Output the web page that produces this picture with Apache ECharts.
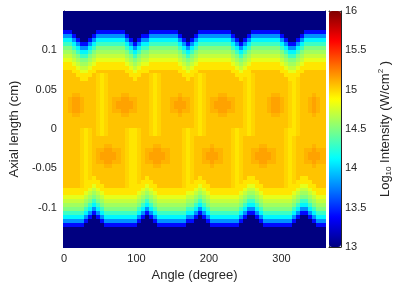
<!DOCTYPE html>
<html><head><meta charset="utf-8">
<script src="https://cdn.jsdelivr.net/npm/echarts@6/dist/echarts.min.js"></script>
<style>html,body{margin:0;padding:0;background:#fff}#c{width:401px;height:291px}</style>
</head><body><div id="c"></div>
<script>
// Colour classes -> log10 intensity
const LEVEL_OF = {'0': 13.0, '4': 13.4, '8': 13.8, 'B': 14.1, 'D': 14.3, 'F': 14.5, 'G': 14.6,
                  'H': 14.7, 'I': 14.8, 'J': 14.95, 'j': 15.0, 'K': 15.05, 'l': 15.1, 'L': 15.15};
const angleTicks = [0, 100, 200, 300];
const axialTicks = [-0.1, -0.05, 0, 0.05, 0.1];
const cbTicks = [13, 13.5, 14, 14.5, 15, 15.5, 16];
const nCols = 64; // angle bins across 0..360 deg
const nRows = 60; // axial bins 0.15 .. -0.15 cm (top to bottom)
// Intensity map: one string per axial row (top first), one char per angle bin
const rows = [
"00000000 00000000 00000000 00000000 00000000 00000000 00000000 00000000",
"00000000 00000000 00000000 00000000 00000000 00000000 00000000 00000000",
"00000000 00000000 00000000 00000000 00000000 00000000 00000000 00000000",
"00000000 00000000 00000000 00000000 00000000 00000000 00000000 00000000",
"00000000 00000000 00000000 00000000 00000000 00000000 00000000 00000000",
"44000000 44444440 00000444 44440000 04444444 40000044 44444000 00044444",
"88400004 88888884 00044888 88884000 48888888 84000488 88888400 00488888",
"BB840048 BBBBBBB8 40488BBB BBBB8404 8BBBBBBB B84048BB BBBBB840 048BBBBB",
"DDB8448B DDDDDDDB 848BBDDD DDDDB848 BDDDDDDD DB848BDD DDDDDB84 48BDDDDD",
"FFDB88BD FFFFFFFD B8BDDFFF FFFFDB8B DFFFFFFF FDB8BDFF FFFFFDB8 8BDFFFFF",
"GGFDBBDF GGGGGGGF DBDFFGGG GGGGFDBD FGGGGGGG GFDBDFGG GGGGGFDB BDFGGGGG",
"HHGFDDFG HHHHHHHG FDFGGHHH HHHHGFDF GHHHHHHH HGFDFGHH HHHHHGFD DFGHHHHH",
"IIHGFFGH IIIIIIIH GFGHHIII IIIIHGFG HIIIIIII IHGFGHII IIIIIHGF FGHIIIII",
"JJIHGGHI JJJJJJJI HGHIIJJJ JJJJIHGH IJJJJJJJ JIHGHIJJ JJJJJIHG GHIJJJJJ",
"JJJIHHIJ JJJJJJJJ IHIJJJJJ JJJJJIHI JJJJJJJJ JJIHIJJJ JJJJJJIH HIJJJJJJ",
"KKJJIIJJ KKKKKKKJ JIJJJKKK KKKKJJIJ JKKKKKKK KJJIJJKK KKKKKJJI IJJKKKKK",
"KKKJJJJK jJjKKKKK JJJKKjJj KKKKKJJJ jJjKKKKK KKJJJJjK KKKKKKJJ JJKKKKKK",
"KKKKJJKK jJjKKKKK KJKKKjJj KKKKKKJK jJjKKKKK KKKJjJjK KKKKKKKJ JjKKKKKK",
"KKKKKKKK jJjKKKKK KKKKKjJj KKKKKKKK jJjKKKKK KKKKjJjK KKKKKKKj JjKKKKKK",
"KKKKKKKK jJjKKKKK KKKKKjJj KKKKKKKK jJjKKKKK KKKKjJjK KKKKKKKj JjKKKKKK",
"KKKKKKKK jJjKKKKK KKKKKjJj KKKKKKKK jJjKKKKK KKKKjJjK KKKKKKKj JjKKKKKK",
"KKllKKKK jJjKKKll KKKKKjJj KKKKlKKK jJjKKKll KKKKjJjK KKKllKKj JjKKKlKK",
"KlLLlKKK jJjKllLL llKKKjJj KKllLllK jJjKllLL llKKjJjK KKlLLlKj JjKKlLlK",
"KlLLlKKK jJjKlLLL LlKKKjJj KKlLLLlK jJjKlLLL LlKKjJjK KKlLLlKj JjKKlLlK",
"KlLLlKKK jJjKlLLL LlKKKjJj KKlLLLlK jJjKlLLL LlKKjJjK KKlLLlKj JjKKlLlK",
"KlLLlKKK jJjKllLL llKKKjJj KKllLllK jJjKllLL llKKjJjK KKlLLlKj JjKKlLlK",
"KKllKKKK jJjKKKll KKKKKjJj KKKKlKKK jJjKKKll KKKKjJjK KKKllKKj JjKKKlKK",
"KKKKKKKK jJjKKKKK KKKKKjJj KKKKKKKK jJjKKKKK KKKKjJjK KKKKKKKj JjKKKKKK",
"KKKKKKKK jJjKKKKK KKKKKjJj KKKKKKKK jJjKKKKK KKKKjJjK KKKKKKKj JjKKKKKK",
"KKKKKKKK jJjKKKKK KKKKKjJj KKKKKKKK jJjKKKKK KKKKjJjK KKKKKKKj JjKKKKKK",
"KKKKjJjK jJjKKKKj JJjKKjJj KKKKKjJj jJjKKKKK KjJjjJjK KKKKKKjJ JjKKKKKK",
"KKKKjJjK jJjKKKKj JJjKKjJj KKKKKjJj jJjKKKKK KjJjjJjK KKKKKKjJ JjKKKKKK",
"KKKKjJjK KKKKKKKj JJjKKKKK KKKKKjJj KKKKKKKK KjJjKKKK KKKKKKjJ jKKKKKKK",
"KKKKjJjK KKKKKKKj JJjKKKKK KKKKKjJj KKKKKKKK KjJjKKKK KKKKKKjJ jKKKKKKK",
"KKKKjJjK KKllKKKj JJjKKKll KKKKKjJj KKKKlKKK KjJjKKKK llKKKKjJ jKKKKlKK",
"KKKKjJjK llLLllKj JJjKllLL llKKKjJj KKllLllK KjJjKKll LLllKKjJ jKKllLll",
"KKKKjJjK lLLLLlKj JJjKlLLL LlKKKjJj KKlLLLlK KjJjKKlL LLLlKKjJ jKKlLLLl",
"KKKKjJjK lLLLLlKj JJjKlLLL LlKKKjJj KKlLLLlK KjJjKKlL LLLlKKjJ jKKlLLLl",
"KKKKjJjK llLLllKj JJjKllLL llKKKjJj KKllLllK KjJjKKll LLllKKjJ jKKllLll",
"KKKKjJjK KKllKKKj JJjKKKll KKKKKjJj KKKKlKKK KjJjKKKK llKKKKjJ jKKKKlKK",
"KKKKjJjK KKKKKKKj JJjKKKKK KKKKKjJj KKKKKKKK KjJjKKKK KKKKKKjJ jKKKKKKK",
"KKKKjJjK KKKKKKKj JJjKKKKK KKKKKjJj KKKKKKKK KjJjKKKK KKKKKKjJ jKKKKKKK",
"KKKKjJjJ KKKKKKKj JJjKJKKK KKKKKjJj KJKKKKKK KjJjKJJK KKKKKKjJ jKJJKKKK",
"KKKKjJJJ JKKKKKKj JJjJJJKK KKKKKjJj JJJKKKKK KjJjJJJJ KKKKKKjJ jJJJJKKK",
"KKKKjJJI JJKKKKKj JJJJIJJK KKKKKjJJ JIJJKKKK KjJJJIIJ JKKKKKjJ JJIIJJKK",
"JJJJJJIH IJJJJJJJ JJJIHIJJ JJJJJJJJ IHIJJJJJ JJJJIHHI JJJJJJJJ JIHHIJJJ",
"JJJJJIHG HIJJJJJJ JJIHGHIJ JJJJJJII HGHIJJJJ JJJIHGGH IJJJJJJJ IHGGHIJJ",
"IIIIIHGF GHIIIIII IIHGFGHI IIIIIIHH GFGHIIII IIIHGFFG HIIIIIII HGFFGHII",
"HHHHHGFD FGHHHHHH HHGFDFGH HHHHHHGG FDFGHHHH HHHGFDDF GHHHHHHH GFDDFGHH",
"GGGGGFDB DFGGGGGG GGFDBDFG GGGGGGFF DBDFGGGG GGGFDBBD FGGGGGGG FDBBDFGG",
"FFFFFDB8 BDFFFFFF FFDB8BDF FFFFFFDD B8BDFFFF FFFDB88B DFFFFFFF DB88BDFF",
"DDDDDB84 8BDDDDDD DDB848BD DDDDDDBB 848BDDDD DDDB8448 BDDDDDDD B8448BDD",
"BBBBB840 48BBBBBB BB84048B BBBBBB88 4048BBBB BBB84004 8BBBBBBB 840048BB",
"88888400 04888888 88400048 88888844 00048888 88840000 48888888 40000488",
"44444000 00444444 44000004 44444400 00004444 44400000 04444444 00000044",
"00000000 00000000 00000000 00000000 00000000 00000000 00000000 00000000",
"00000000 00000000 00000000 00000000 00000000 00000000 00000000 00000000",
"00000000 00000000 00000000 00000000 00000000 00000000 00000000 00000000",
"00000000 00000000 00000000 00000000 00000000 00000000 00000000 00000000",
"00000000 00000000 00000000 00000000 00000000 00000000 00000000 00000000"
];
const jet = ['#000080','#0000ff','#0080ff','#00ffff','#80ff80','#ffff00','#ff8000','#ff0000','#800000'];

const data = [];
rows.forEach(function (r, i) {
  const s = r.replace(/ /g, '');
  for (let j = 0; j < s.length; j++) data.push([j, i, LEVEL_OF[s[j]]]);
});
const colCats = Array.from({length: nCols}, (_, j) => String(j));
const rowCats = Array.from({length: nRows}, (_, i) => String(i));

const C = '#262626';
const F = '"Liberation Sans", Arial, Helvetica, sans-serif';
const line = {show: true, onZero: false, lineStyle: {color: C, width: 1}};
const tick = {show: true, inside: true, length: 3, lineStyle: {color: C, width: 1}};
const noSplit = {show: false};

const chart = echarts.init(document.getElementById('c'), null, {renderer: 'canvas'});
chart.setOption({
  animation: false,
  backgroundColor: '#fff',
  grid: [
    {left: 62, top: 11, width: 263, height: 236},
    {left: 329, top: 11, width: 12, height: 236}
  ],
  xAxis: [
    {type: 'category', gridIndex: 0, data: colCats, show: false},
    {type: 'value', gridIndex: 0, min: 0, max: 360, interval: 100, position: 'bottom',
     axisLine: line, axisTick: tick, splitLine: noSplit,
     axisLabel: {color: C, fontSize: 11, fontFamily: F, margin: 6,
       formatter: function (v) { return angleTicks.indexOf(v) >= 0 ? String(v) : ''; }},
     name: 'Angle (degree)', nameLocation: 'middle', nameGap: 21,
     nameTextStyle: {color: C, fontSize: 13, fontFamily: F}},
    {type: 'value', gridIndex: 0, min: 0, max: 360, interval: 100, position: 'top',
     axisLine: line, axisTick: tick, splitLine: noSplit, axisLabel: {show: false}},
    {type: 'value', gridIndex: 1, min: 0, max: 1, position: 'bottom',
     axisLine: line, axisTick: {show: false}, splitLine: noSplit, axisLabel: {show: false}},
    {type: 'value', gridIndex: 1, min: 0, max: 1, position: 'top',
     axisLine: line, axisTick: {show: false}, splitLine: noSplit, axisLabel: {show: false}}
  ],
  yAxis: [
    {type: 'category', gridIndex: 0, data: rowCats, inverse: true, show: false},
    {type: 'value', gridIndex: 0, min: -0.15, max: 0.15, interval: 0.05, position: 'left',
     axisLine: line, axisTick: tick, splitLine: noSplit,
     axisLabel: {color: C, fontSize: 11, fontFamily: F, margin: 7,
       formatter: function (v) {
         const r = +v.toFixed(2);
         return axialTicks.indexOf(r) >= 0 ? String(r) : '';
       }},
     name: 'Axial length (cm)', nameLocation: 'middle', nameGap: 30, nameRotate: 90,
     nameTextStyle: {color: C, fontSize: 13, fontFamily: F}},
    {type: 'value', gridIndex: 0, min: -0.15, max: 0.15, interval: 0.05, position: 'right',
     axisLine: line, axisTick: tick, splitLine: noSplit, axisLabel: {show: false}},
    {type: 'value', gridIndex: 1, min: 13, max: 16, interval: 0.5, position: 'right',
     axisLine: line, axisTick: tick, splitLine: noSplit,
     axisLabel: {color: C, fontSize: 11, fontFamily: F, margin: 4,
       formatter: function (v) { return cbTicks.indexOf(+v.toFixed(1)) >= 0 ? String(+v.toFixed(1)) : ''; }},
     name: '{a|Log}{b|10}{a| Intensity (W/cm}{c|2}{a| )}', nameLocation: 'middle', nameGap: 36, nameRotate: 90,
     nameTextStyle: {color: C, fontSize: 13, fontFamily: F,
       rich: {
         a: {fontSize: 13, fontFamily: F, color: C},
         b: {fontSize: 8, fontFamily: F, color: C, padding: [8, 0, 0, 0]},
         c: {fontSize: 8, fontFamily: F, color: C, padding: [0, 0, 8, 0]}
       }}},
    {type: 'value', gridIndex: 1, min: 13, max: 16, position: 'left',
     axisLine: line, axisTick: {show: false}, splitLine: noSplit, axisLabel: {show: false}}
  ],
  visualMap: {
    type: 'continuous', min: 13, max: 16, dimension: 2, seriesIndex: 0,
    inRange: {color: jet}, left: 329, top: 11, itemWidth: 12, itemHeight: 236,
    padding: 0, calculable: false, text: null, hoverLink: false, orient: 'vertical'
  },
  series: [{
    type: 'custom', xAxisIndex: 0, yAxisIndex: 0, data: data, silent: true, clip: true,
    encode: {x: 0, y: 1},
    renderItem: function (params, api) {
      const p = api.coord([api.value(0), api.value(1)]);
      const sz = api.size([1, 1]);
      return {
        type: 'rect',
        shape: {x: Math.floor(p[0] - sz[0] / 2), y: Math.floor(p[1] - sz[1] / 2),
                width: Math.ceil(sz[0]) + 1, height: Math.ceil(sz[1]) + 1},
        style: {fill: api.visual('color')}
      };
    }
  }]
});
</script>
</body></html>
